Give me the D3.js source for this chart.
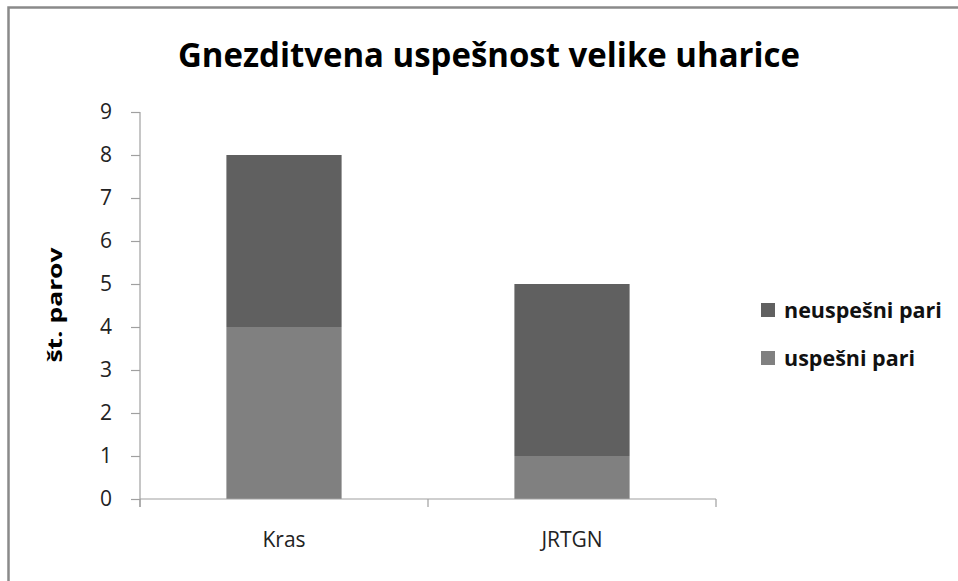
<!DOCTYPE html>
<html><head><meta charset="utf-8">
<script src="https://cdn.jsdelivr.net/npm/d3@7"></script>
<style>body{margin:0;background:#fff}svg{display:block}</style>
</head><body>
<script>
const categories = ["Kras", "JRTGN"];
const seriesNames = ["uspešni pari", "neuspešni pari"];
const uspesni = [4, 1];
const neuspesni = [4, 4];
const yTicks = [0,1,2,3,4,5,6,7,8,9];
const colors = ["#808080", "#606060"];

const W = 958, H = 581;
const svg = d3.select("body").append("svg").attr("width", W).attr("height", H);
svg.append("rect").attr("x", 8.5).attr("y", 7.5).attr("width", W + 10).attr("height", H + 10)
  .attr("fill", "#fff").attr("stroke", "#8a8a8a").attr("stroke-width", 2.5);

const plot = {left: 140, right: 716, top: 112, bottom: 499};
const x = d3.scaleBand().domain(categories).range([plot.left, plot.right]).paddingInner(0.6).paddingOuter(0.3);
const xOuter = d3.scaleBand().domain(categories).range([plot.left, plot.right]);
const y = d3.scaleLinear().domain([0, 9]).range([plot.bottom, plot.top]);

const rows = categories.map((c, i) => ({cat: c, "uspešni pari": uspesni[i], "neuspešni pari": neuspesni[i]}));
const stack = d3.stack().keys(seriesNames)(rows);

stack.forEach((s, si) => {
  svg.append("g").selectAll("rect").data(s).join("rect")
    .attr("x", d => x(d.data.cat)).attr("width", x.bandwidth())
    .attr("y", d => y(d[1])).attr("height", d => y(d[0]) - y(d[1]))
    .attr("fill", colors[si]);
});

const font = "'Open Sans', sans-serif";
// y axis
const yAxis = svg.append("g").attr("transform", `translate(${plot.left},0)`)
  .call(d3.axisLeft(y).tickValues(yTicks).tickSize(9).tickPadding(19));
yAxis.select(".domain").attr("d", `M0,${plot.top}V${plot.bottom + 8}`);
yAxis.selectAll("line, .domain").attr("stroke", "#a0a0a0").attr("stroke-width", 1.2);
yAxis.selectAll("text").attr("font-family", font).attr("font-size", 21).attr("fill", "#222");

// x axis
const xAxis = svg.append("g").attr("transform", `translate(0,${plot.bottom})`)
  .call(d3.axisBottom(xOuter).tickSize(0).tickPadding(33));
xAxis.select(".domain").attr("d", `M${plot.left},0H${plot.right}`).attr("stroke", "#a0a0a0").attr("stroke-width", 1.2);
xAxis.selectAll("text").attr("font-family", font).attr("font-size", 21).attr("fill", "#222");
// category separator ticks
const seps = [plot.left].concat(categories.map(c => xOuter(c) + xOuter.bandwidth()));
xAxis.selectAll(".sep").data(seps).join("line").attr("class", "sep")
  .attr("x1", d => d).attr("x2", d => d).attr("y1", 0).attr("y2", 8)
  .attr("stroke", "#a0a0a0").attr("stroke-width", 1.2);

// title
svg.append("text").attr("x", 489).attr("y", 67).attr("text-anchor", "middle")
  .attr("font-family", font).attr("font-weight", "bold").attr("font-size", 34).attr("fill", "#000")
  .attr("textLength", 622).attr("lengthAdjust", "spacingAndGlyphs")
  .text("Gnezditvena uspešnost velike uharice");

// y label
svg.append("text").attr("transform", "translate(62,305) rotate(-90)").attr("text-anchor", "middle")
  .attr("font-family", font).attr("font-weight", "bold").attr("font-size", 20).attr("fill", "#000")
  .attr("textLength", 115).attr("lengthAdjust", "spacingAndGlyphs")
  .text("št. parov");

// legend
const legendItems = [{name: "neuspešni pari", color: colors[1]}, {name: "uspešni pari", color: colors[0]}];
const lg = svg.append("g").selectAll("g").data(legendItems).join("g")
  .attr("transform", (d, i) => `translate(761,${310 + i * 48})`);
lg.append("rect").attr("x", 0).attr("y", -7).attr("width", 14).attr("height", 14).attr("fill", d => d.color);
lg.append("text").attr("x", 23).attr("y", 8).attr("font-family", font).attr("font-weight", "bold")
  .attr("font-size", 21.5).attr("fill", "#111").text(d => d.name);
</script>
</body></html>
